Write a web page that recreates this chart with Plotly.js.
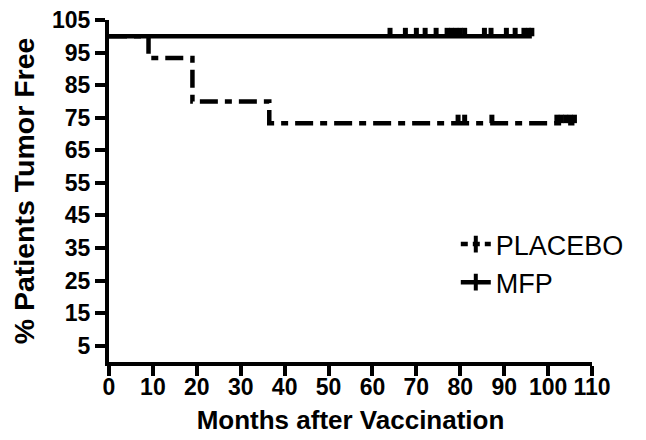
<!DOCTYPE html>
<html>
<head>
<meta charset="utf-8">
<script src="https://cdn.plot.ly/plotly-3.0.1.min.js"></script>
<style>html,body{margin:0;padding:0;background:#fff;}#chart{width:646px;height:440px;}</style>
</head>
<body>
<div id="chart"></div>
<script>
// ---- data ----
var seriesNames = ["PLACEBO", "MFP"];
var placeboEventMonths = [9, 19, 36.5];
var placeboSurvival = [93.33, 80, 73.33];
var placeboCensorMonths = [79.5, 81, 87.2, 102, 103, 104, 105, 106];
var mfpEventMonths = [];
var mfpSurvival = [];
var mfpCensorMonths = [64, 67.5, 70, 72, 74.5, 77, 78, 79, 80, 81, 85.5, 87, 90.5, 92.5, 94.5, 95.5, 96.3];
var xTickVals = [0, 10, 20, 30, 40, 50, 60, 70, 80, 90, 100, 110];
var yTickVals = [5, 15, 25, 35, 45, 55, 65, 75, 85, 95, 105];

// ---- helpers ----
function stepXY(events, surv, censors) {
  var x = [0], y = [100];
  for (var i = 0; i < events.length; i++) { x.push(events[i]); y.push(surv[i]); }
  var last = censors[censors.length - 1];
  x.push(last); y.push(y[y.length - 1]);
  return {x: x, y: y};
}
function survAt(t, events, surv) {
  var s = 100;
  for (var i = 0; i < events.length; i++) { if (events[i] <= t) s = surv[i]; }
  return s;
}

var dashPlacebo = "18px,7px,7px,7px";
var lw = 4.5;
var tickUp = 2.6; // censor tick height (style)
var FONT = "Liberation Sans, Arial, sans-serif";

var pStep = stepXY(placeboEventMonths, placeboSurvival, placeboCensorMonths);
var mStep = stepXY(mfpEventMonths, mfpSurvival, mfpCensorMonths);

var traces = [
  {x: mStep.x, y: mStep.y, mode: "lines", line: {shape: "hv", color: "#000", width: lw}, showlegend: false, hoverinfo: "skip"},
  {x: pStep.x, y: pStep.y, mode: "lines", line: {shape: "hv", color: "#000", width: lw, dash: dashPlacebo}, showlegend: false, hoverinfo: "skip"},
  {x: placeboCensorMonths, y: placeboCensorMonths.map(function(t){return survAt(t, placeboEventMonths, placeboSurvival);}),
   mode: "markers", marker: {size: 1, color: "rgba(0,0,0,0)"}, showlegend: false,
   error_y: {type: "constant", symmetric: false, value: tickUp, valueminus: 0, width: 0, thickness: 5, color: "#000"}},
  {x: mfpCensorMonths, y: mfpCensorMonths.map(function(t){return survAt(t, mfpEventMonths, mfpSurvival);}),
   mode: "markers", marker: {size: 1, color: "rgba(0,0,0,0)"}, showlegend: false,
   error_y: {type: "constant", symmetric: false, value: tickUp, valueminus: 0, width: 0, thickness: 5, color: "#000"}},
  {x: [null], y: [null], name: seriesNames[0], legendgroup: "p", mode: "lines+markers",
   line: {color: "#000", width: lw, dash: "7px,5px"}, marker: {symbol: "line-ns", size: 12, line: {width: 4, color: "#000"}}},
  {x: [null], y: [null], name: seriesNames[1], legendgroup: "m", mode: "lines+markers",
   line: {color: "#000", width: lw}, marker: {symbol: "line-ns", size: 12, line: {width: 4, color: "#000"}}}
];

var layout = {
  width: 646, height: 440,
  margin: {l: 109, r: 54, t: 20, b: 78},
  paper_bgcolor: "#fff", plot_bgcolor: "#fff",
  font: {family: FONT, color: "#000"},
  showlegend: true,
  legend: {x: 0.718, y: 0.415, xanchor: "left", yanchor: "top", bgcolor: "rgba(0,0,0,0)",
           font: {size: 27, family: FONT, color: "#000"},
           traceorder: "grouped", tracegroupgap: 0},
  xaxis: {range: [0, 110], tickvals: xTickVals, ticktext: xTickVals.map(String),
          showgrid: false, zeroline: false, showline: true, linecolor: "#000", linewidth: 4,
          ticks: "outside", ticklen: 10, tickwidth: 4, tickcolor: "#000",
          ticklabelstandoff: -9,
          tickfont: {size: 23, family: FONT, weight: "bold"},
          title: {text: "<b>Months after Vaccination</b>", font: {size: 26}, standoff: 13}},
  yaxis: {range: [0, 105], tickvals: yTickVals, ticktext: yTickVals.map(String),
          showgrid: false, zeroline: false, showline: true, linecolor: "#000", linewidth: 4,
          ticks: "outside", ticklen: 10, tickwidth: 4, tickcolor: "#000",
          tickfont: {size: 23, family: FONT, weight: "bold"},
          title: {text: "<b>% Patients Tumor Free</b>", font: {size: 28.5}, standoff: 10}}
};

Plotly.newPlot("chart", traces, layout, {staticPlot: true, displayModeBar: false});
</script>
</body>
</html>
